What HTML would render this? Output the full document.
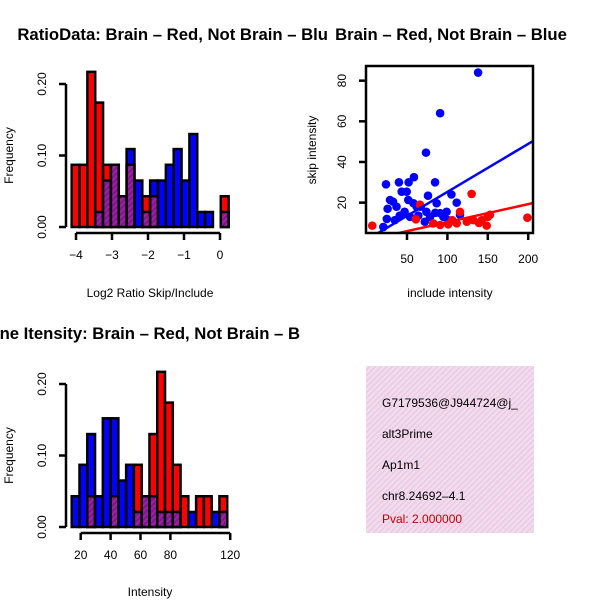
<!DOCTYPE html>
<html><head><meta charset="utf-8"><style>
html,body{margin:0;padding:0;background:#fff;}
svg{display:block;font-family:"Liberation Sans",sans-serif;}
</style></head><body>
<svg id="c" width="600" height="600" viewBox="0 0 600 600">
<defs>
<pattern id="pp" width="4" height="4" patternUnits="userSpaceOnUse" patternTransform="rotate(45)">
<rect width="4" height="4" fill="#a020a0"/><rect width="2" height="4" fill="#7a1890"/></pattern>
<pattern id="pink" width="4" height="4" patternUnits="userSpaceOnUse" patternTransform="rotate(45)">
<rect width="4" height="4" fill="#f7d8f2"/><rect width="1.3" height="4" fill="#e0cfd8"/></pattern>
<clipPath id="sc"><rect x="366" y="66" width="167" height="167"/></clipPath>
<clipPath id="ib"><rect x="366" y="366" width="168" height="167"/></clipPath>
</defs>
</svg>
<script>
// top histogram data (fractions)
const ratioRed  = [0.087,0.087,0.217,0.174,0.087,0.087,0.043,0.087,0,0.043,0.043,0,0,0,0,0,0,0,0,0.043];
const ratioBlue = [0,0,0,0.021,0.065,0.087,0.043,0.109,0.065,0.021,0.065,0.065,0.087,0.109,0.065,0.130,0.021,0.021,0,0.021];
const ratioStart = -4.12, ratioWidth = 0.218;
const ratioTicks = [-4,-3,-2,-1,0];
// bottom histogram
const intRed  = [0,0,0.043,0,0,0.043,0,0,0.087,0.043,0.130,0.217,0.174,0.087,0.043,0,0.043,0.043,0,0.043];
const intBlue = [0.043,0.087,0.130,0.043,0.152,0.152,0.065,0.087,0.021,0.043,0.043,0.021,0.021,0.021,0,0.021,0,0,0.021,0.021];
const intStart = 14, intWidth = 5.2;
const intTicks = [20,40,60,80,120];
const freqTicks = [0,0.1,0.2];
const freqLabels = ["0.00","0.10","0.20"];
// scatter
const blueX = [138,91,73.5,84.7,24,40,52,58.6,76,105,111.5,43.4,32.7,26,20.7,37,51.6,49.6,53.7,86.7,91,82.5,72,99,115.6,62,64,41,25,74,78.5,29,35,58,47,67,95,101,85];
const blueY = [84,64,44.6,30,29,30,30,32.5,23.4,24,20,25.4,20.5,17,8,18,21.3,25.4,13,19.7,14.8,9.8,10.6,15.5,14,18,13.6,13.6,12,15.5,13,21.3,11.4,19.7,15.5,18,13,11.4,15];
const redX = [7,130,66,61,115.6,152.7,199,148.6,132,124,111.5,101,142.5,91,82.5,139,106,150];
const redY = [8.7,24.3,19,11.8,15.5,14,12.6,8.7,11.4,10.6,9.8,9.3,11.4,9,9.8,10,11.4,13];
const redFit = [1.55,0.0886], blueFit = [1.7,0.236];
const scX = [50,100,150,200], scY = [20,40,60,80];

const svg = document.getElementById('c');
const NS = 'http://www.w3.org/2000/svg';
function mk(tag, attrs, parent){const e=document.createElementNS(NS,tag);for(const k in attrs)e.setAttribute(k,attrs[k]);(parent||svg).appendChild(e);return e;}
function txt(s,x,y,size,attrs){const t=mk('text',Object.assign({x:x,y:y,'font-size':size,'text-anchor':'middle'},attrs||{}));t.textContent=s;return t;}

function hist(red,blue,start,width,xf,y0,ticks,tickY,lblY,xlabel,name){
  const yf = f => y0 - 715*f;
  const g = mk('g',{});
  
  
  for(let i=0;i<red.length;i++){
    const x1=xf(start+i*width), x2=xf(start+(i+1)*width);
    const r=red[i], b=blue[i], lo=Math.min(r,b), hi=Math.max(r,b);
    if(hi<=0) continue;
    const top=mk('rect',{x:x1,y:yf(hi),width:x2-x1,height:yf(0)-yf(hi),fill:r>b?'#ff0000':'#0000ff',stroke:'#000','stroke-width':2.5},g);
    
    
    if(lo>0){
      const ov=mk('rect',{x:x1,y:yf(lo),width:x2-x1,height:yf(0)-yf(lo),fill:'url(#pp)',stroke:'#000','stroke-width':2.5},g);
      
      
    }
  }
  mk('line',{x1:66,x2:66,y1:yf(0),y2:yf(0.2),stroke:'#000','stroke-width':2.5});
  freqTicks.forEach((f,i)=>{
    mk('line',{x1:59,x2:66,y1:yf(f),y2:yf(f),stroke:'#000','stroke-width':2.5});
    const t=txt(freqLabels[i],46,yf(f),12,{transform:'rotate(-90 46 '+yf(f)+')'});
    
    
  });
  const ax=tickY-7;
  mk('line',{x1:xf(ticks[0]),x2:xf(ticks[ticks.length-1]),y1:ax,y2:ax,stroke:'#000','stroke-width':2.5});
  ticks.forEach(v=>{
    mk('line',{x1:xf(v),x2:xf(v),y1:ax,y2:ax+7,stroke:'#000','stroke-width':2.5});
    const t=txt(String(v).replace('-','\u2212'),xf(v),ax+26,12);
    
    
  });
  const xl=txt(xlabel,150,lblY,12);
  
  
  const cy=(yf(0)+yf(0.2))/2;
  const yl=txt('Frequency',13,cy,12,{transform:'rotate(-90 13 '+cy+')'});
  
  
}
hist(ratioRed,ratioBlue,ratioStart,ratioWidth,v=>220+36*v,227,ratioTicks,240,297,'Log2 Ratio Skip/Include','ratio-hist');
hist(intRed,intBlue,intStart,intWidth,v=>80.7+1.495*(v-20),527,intTicks,540,596,'Intensity','intensity-hist');

const t1=txt('RatioData: Brain \u2013 Red, Not Brain \u2013 Blu',328,40,16.7,{'text-anchor':'end','font-weight':'bold'});


const t2=txt('ne Itensity: Brain \u2013 Red, Not Brain \u2013 B',300,339,16.7,{'text-anchor':'end','font-weight':'bold'});


const t3=txt('Brain \u2013 Red, Not Brain \u2013 Blue',451,40,16.7,{'font-weight':'bold'});



const sx = v => 366.6 + 0.808*v, sy = v => 243.3 - 2.033*v;
const sg = mk('g',{'clip-path':'url(#sc)'});


blueX.forEach((x,i)=>{const c=mk('circle',{cx:sx(x),cy:sy(blueY[i]),r:4.3,fill:'#0000ff'},sg);
  
  });
redX.forEach((x,i)=>{const c=mk('circle',{cx:sx(x),cy:sy(redY[i]),r:4.3,fill:'#ff0000'},sg);
  
  });
[[blueFit,'#0000ff','blue-fit-line'],[redFit,'#ff0000','red-fit-line']].forEach(([f,col,n])=>{
  const l=mk('line',{x1:sx(-10),y1:sy(f[0]+f[1]*-10),x2:sx(220),y2:sy(f[0]+f[1]*220),stroke:col,'stroke-width':2.5},sg);
  
  
});
const box=mk('rect',{x:366,y:66,width:167,height:167,fill:'none',stroke:'#000','stroke-width':2.5});


scX.forEach(v=>{mk('line',{x1:sx(v),x2:sx(v),y1:233,y2:240,stroke:'#000','stroke-width':2.5});
  const t=txt(String(v),sx(v),263,12);
  
  });
scY.forEach(v=>{mk('line',{x1:359,x2:366,y1:sy(v),y2:sy(v),stroke:'#000','stroke-width':2.5});
  const t=txt(String(v),346,sy(v),12,{transform:'rotate(-90 346 '+sy(v)+')'});
  
  });
const sxl=txt('include intensity',450,297,12);


const syl=txt('skip intensity',316,150,12,{transform:'rotate(-90 316 150)'});



const ig=mk('g',{'clip-path':'url(#ib)'});


mk('rect',{x:366,y:366,width:168,height:167,fill:'url(#pink)'},ig);
[['G7179536@J944724@j_',407,'#000','info-id'],['alt3Prime',438,'#000','info-type'],['Ap1m1',469,'#000','info-gene'],['chr8.24692\u20134.1',500,'#000','info-location'],['Pval: 2.000000',523,'#c00000','info-pvalue']].forEach(([s,y,c,n])=>{
  const t=mk('text',{x:382,y:y,'font-size':12,fill:c},ig);t.textContent=s;
  
  
});
</script>
</body></html>
